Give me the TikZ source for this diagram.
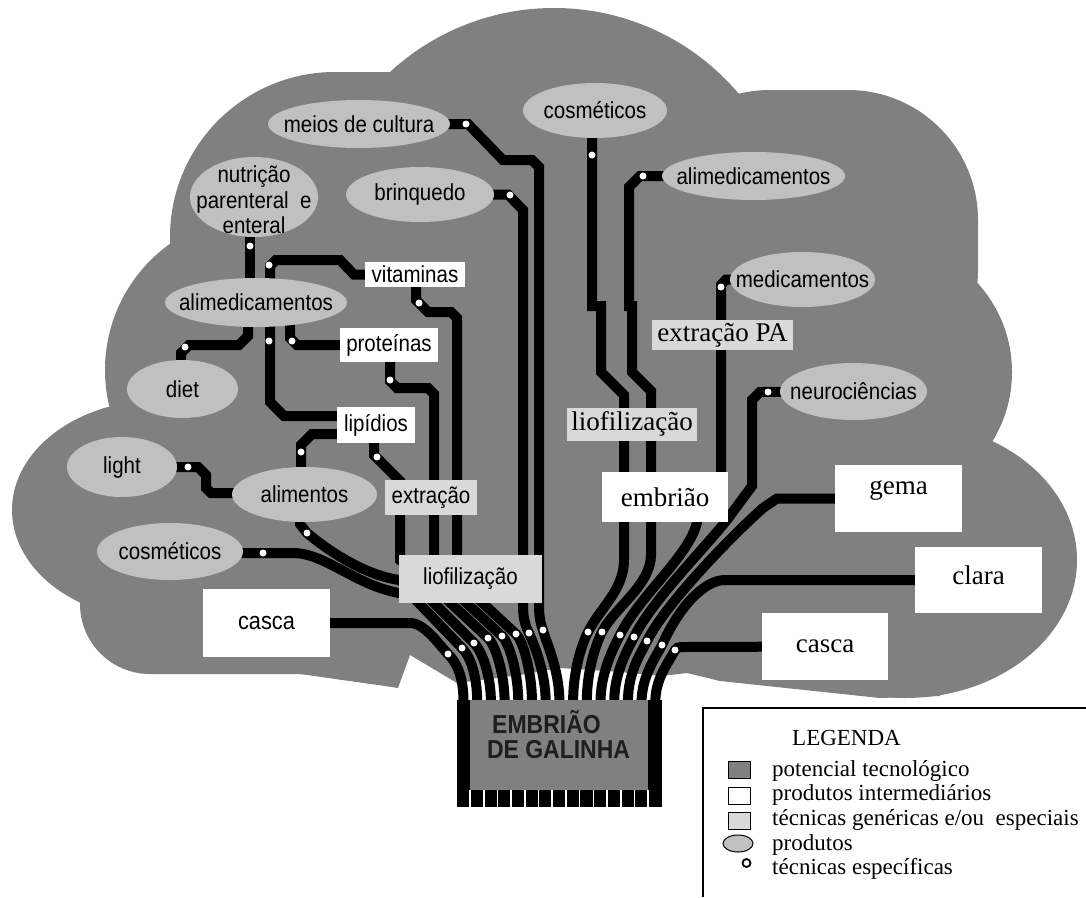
\documentclass[tikz,border=0pt]{standalone}
\usepackage{fontspec}
\setmainfont{Liberation Serif}
\setsansfont{Liberation Sans}
\newfontfamily\nsans{Liberation Sans}[FakeStretch=0.884]
\usetikzlibrary{shapes.geometric}
\pgfdeclarelayer{cloudl}
\pgfdeclarelayer{tracel}
\pgfsetlayers{cloudl,tracel,main}
\definecolor{cloudg}{HTML}{808080}
\definecolor{prodg}{HTML}{C0C0C0}
\definecolor{techg}{HTML}{D9D9D9}
\definecolor{chiptxt}{HTML}{1E1E1E}
\begin{document}
\begin{tikzpicture}[x=1pt,y=-1pt,
  trace/.style={line width=10pt, draw=black},
  prod/.style 2 args={ellipse, fill=prodg, minimum width=#1, minimum height=#2, inner sep=0pt},
  ibox/.style 2 args={rectangle, fill=white, minimum width=#1, minimum height=#2, inner sep=0pt},
  tbox/.style 2 args={rectangle, fill=techg, minimum width=#1, minimum height=#2, inner sep=0pt},
  dot/.style={circle, fill=white, minimum size=7pt, inner sep=0pt},
  sl/.style={font=\nsans\fontsize{23.2}{25.5}\selectfont, inner sep=0pt},
  slb/.style={font=\nsans\fontsize{24.6}{27}\selectfont, inner sep=0pt},
  rl/.style={font=\rmfamily\fontsize{27}{30}\selectfont, inner sep=0pt},
  chipfont/.style={font=\nsans\bfseries\fontsize{26}{29}\selectfont, text=chiptxt, anchor=base, inner sep=0pt},
  legt/.style={font=\rmfamily\fontsize{23}{26}\selectfont, anchor=base west, inner sep=0pt},
  legsym/.style={draw, line width=1pt, rectangle, minimum width=22pt, minimum height=17pt, inner sep=0pt},
]
\useasboundingbox (0,0) rectangle (1086,897);

% ---------- product / intermediate / technique nodes ----------
\node[prod={182pt}{48pt}, label={[sl]center:meios de cultura}] (meios) at (359,124) {};
\node[prod={128pt}{80pt}, label={[sl, align=center, yshift=-3pt]center:nutrição\\parenteral\ \ e\\enteral}] (nutr) at (254,197) {};
\node[prod={148pt}{55pt}, label={[sl]center:brinquedo}] (brinq) at (420,194.5) {};
\node[ibox={100pt}{25pt}, label={[sl]center:vitaminas}] (vitam) at (415,274.5) {};
\node[prod={182pt}{49pt}, label={[sl]center:alimedicamentos}] (alimL) at (256,302.5) {};
\node[ibox={98pt}{34pt}, label={[sl]center:proteínas}] (prot) at (389,345) {};
\node[prod={111pt}{58pt}, label={[sl]center:diet}] (diet) at (182.5,389) {};
\node[ibox={78pt}{36pt}, label={[sl]center:lipídios}] (lipid) at (376,425) {};
\node[prod={110pt}{60pt}, label={[sl]center:light}] (light) at (122,467) {};
\node[prod={145pt}{55pt}, label={[sl]center:alimentos}] (alimentos) at (304.5,494.5) {};
\node[tbox={92pt}{35pt}, label={[sl]center:extração}] (extrL) at (431,497.5) {};
\node[prod={146pt}{57pt}, label={[sl]center:cosméticos}] (cosmL) at (170,551.5) {};
\node[tbox={143pt}{48pt}, label={[sl]center:liofilização}] (lioL) at (470.5,579) {};
\node[ibox={127pt}{68pt}, label={[slb]center:casca}] (cascaL) at (266.5,623) {};

\node[prod={144pt}{55pt}, label={[sl]center:cosméticos}] (cosmT) at (595,110.5) {};
\node[prod={183pt}{48pt}, label={[sl]center:alimedicamentos}] (alimR) at (753.5,176) {};
\node[prod={145pt}{55pt}, label={[sl]center:medicamentos}] (medic) at (802.5,279.5) {};
\node[tbox={141pt}{30pt}, label={[rl]center:extração PA}] (extrPA) at (722.5,335) {};
\node[prod={147pt}{57pt}, label={[sl]center:neurociências}] (neuro) at (853.5,391.5) {};
\node[tbox={130pt}{33pt}, label={[rl]center:liofilização}] (lioR) at (632,424) {};
\node[ibox={126pt}{50pt}, label={[rl]center:embrião}] (embr) at (665,497) {};
\node[ibox={127pt}{67pt}, label={[rl, yshift=8pt]center:gema}] (gema) at (898.5,498.5) {};
\node[ibox={127pt}{66pt}, label={[rl, yshift=5pt]center:clara}] (clara) at (978.5,580) {};
\node[ibox={126pt}{67pt}, label={[rl]center:casca}] (cascaR) at (825,646.5) {};

% ---------- dots (specific techniques) ----------
\node[dot] (dn) at (250,246) {};
\node[dot] (dv) at (269,265) {};
\node[dot] (dd) at (185,347) {};
\node[dot] (dp) at (292,341) {};
\node[dot] (dl) at (269,341) {};
\node[dot] (dla) at (301,452) {};
\node[dot] (dle) at (377,457) {};
\node[dot] (dli) at (188,467) {};
\node[dot] (dal) at (307,533) {};
\node[dot] (dco) at (263,553) {};
\node[dot] (dvi) at (419,303) {};
\node[dot] (dpr) at (390,380) {};
\node[dot] (dbr) at (510,195) {};
\node[dot] (dme) at (466,124) {};
\node[dot] (dcT) at (592,155) {};
\node[dot] (daR) at (643,176) {};
\node[dot] (dmd) at (721,287) {};
\node[dot] (dne) at (768,392) {};
\node[dot] (d0) at (448,654) {};
\node[dot] (d1) at (462,648) {};
\node[dot] (d2) at (474,643) {};
\node[dot] (d3) at (488,638) {};
\node[dot] (d4) at (502,636) {};
\node[dot] (d5) at (516,634) {};
\node[dot] (d6) at (529,633) {};
\node[dot] (d7) at (543,630) {};
\node[dot] (d8) at (588,632) {};
\node[dot] (d9) at (602,632) {};
\node[dot] (d10) at (620,635) {};
\node[dot] (d11) at (634,637) {};
\node[dot] (d12) at (647,641) {};
\node[dot] (d13) at (662,645) {};
\node[dot] (d14) at (675,650) {};

% ---------- chip ----------
\node[rectangle, fill=black, minimum width=205pt, minimum height=107pt, inner sep=0pt] (chip) at (559.5,753.5) {};
\node[rectangle, fill=cloudg, minimum width=178pt, minimum height=90pt, inner sep=0pt] (chipin) at (559,745) {};
\foreach \k in {0,...,13} \fill[white] ({470+13.7*\k-0.8},790) rectangle ({470+13.7*\k+0.8},807);
\node[chipfont] (ct1) at (546.5,733) {EMBRIÃO};
\node[chipfont] (ct2) at (558.5,758) {DE GALINHA};
\foreach \i in {0,...,14} \coordinate (p\i) at ({463.5+13.7*\i},702);

% ---------- legend ----------
\draw[line width=1.5pt] (703,897) -- (703,708) -- (1086,708);
\node[legt] (lg0) at (792,745) {LEGENDA};
\node[legt] (lg1) at (772,776.7) {potencial tecnológico};
\node[legt] (lg2) at (772,800.7) {produtos intermediários};
\node[legt] (lg3) at (772,825.7) {técnicas genéricas e/ou\ \ especiais};
\node[legt] (lg4) at (772,850) {produtos};
\node[legt] (lg5) at (772,874) {técnicas específicas};
\node[legsym, fill=cloudg] (ls1) at (739,770) {};
\node[legsym, fill=white] (ls2) at (739,796) {};
\node[legsym, fill=techg] (ls3) at (739,821) {};
\node[draw, line width=1pt, fill=prodg, ellipse, minimum width=30pt, minimum height=17pt, inner sep=0pt] (ls4) at (738,843.5) {};
\node[draw, line width=1.8pt, fill=white, circle, minimum size=8pt, inner sep=0pt] (ls5) at (746.5,863) {};

% ---------- traces ----------
\begin{pgfonlayer}{tracel}
\draw[trace] (250,0 |- nutr.center) -- (250,0 |- alimL.center);
\draw[trace] (270,0 |- alimL.center) -- (270,266) -- (276,260) -- (340,260) -- (354,274.5) -- (vitam.center);
\draw[trace] (248,0 |- alimL.center) -- (248,336) -- (239,345) -- (189,345) -- (181,353) -- (181,0 |- diet.center);
\draw[trace] (290,0 |- alimL.center) -- (290,338) -- (297,345) -- (prot.center);
\draw[trace] (270,0 |- alimL.center) -- (270,402) -- (284,416) -- (lipid.center |- 0,416);
\draw[trace] (lipid.center |- 0,434) -- (312,434) -- (301,445) -- (301,0 |- alimentos.center);
\draw[trace] (light.center) -- (198,467) -- (206,475) -- (206,488) -- (211,493) -- (alimentos.center |- 0,493);
% left group into the chip
\draw[trace] (cascaL.center) -- (410,623) .. controls (425,623) and (440,646) .. (d0.center) .. controls (456,662) and (463.5,675) .. (p0);
\draw[trace] (cosmL.center |- 0,553) -- (293,553) .. controls (325,553) and (355,585) .. (399,593) -- (412,596) -- (d1.center) .. controls (470,656) and (477.2,675) .. (p1);
\draw[trace] (300,0 |- alimentos.center) -- (300,524) -- (dal.center) .. controls (330,552) and (365,575) .. (399,580) -- (427,596) -- (d2.center) .. controls (482,651) and (490.9,675) .. (p2);
\draw[trace] (374,0 |- lipid.center) -- (374,455) -- (400,481) -- (400,560) -- (443,596) -- (d3.center) .. controls (496,646) and (504.6,675) .. (p3);
\draw[trace] (390,0 |- prot.center) -- (390,381) -- (397,388) -- (428,388) -- (434,394) -- (434,560) -- (459,596) -- (d4.center) .. controls (510,644) and (518.3,675) .. (p4);
\draw[trace] (416,0 |- vitam.center) -- (416,300) -- (428,312) -- (451,312) -- (457,318) -- (457,560) -- (475,596) -- (d5.center) .. controls (524,642) and (532,675) .. (p5);
\draw[trace] (brinq.center) -- (508,194.5) -- (523,210) -- (523,605) .. controls (523,620) and (526,627) .. (d6.center) .. controls (532,640) and (545.7,670) .. (p6);
\draw[trace] (meios.center) -- (468,124) -- (503,160) -- (532,160) -- (539,167) -- (539,605) .. controls (539,618) and (541,625) .. (d7.center) .. controls (545,640) and (559.4,668) .. (p7);
% right group into the chip
\draw[trace] (592,0 |- cosmT.center) -- (592,306) -- (601,306) -- (601,372) -- (624,395) -- (624,560) .. controls (624,590) and (600,608) .. (d8.center) .. controls (582,644) and (573.1,670) .. (p8);
\draw[trace] (alimR.center) -- (640,176) -- (629,187) -- (629,306) -- (632,306) -- (632,372) -- (651,391) -- (651,555) .. controls (651,585) and (614,608) .. (d9.center) .. controls (596,644) and (586.8,670) .. (p9);
\draw[trace] (medic.center) -- (726,279.5) -- (721,285) -- (721,500) -- (697,515) -- (697,522) .. controls (690,555) and (640,595) .. (d10.center) .. controls (614,647) and (600.5,672) .. (p10);
\draw[trace] (neuro.center) -- (760,392) -- (752,400) -- (752,486) -- (732,513) .. controls (715,538) and (654,597) .. (d11.center) .. controls (628,649) and (614.2,672) .. (p11);
\draw[trace] (gema.center) -- (777,498.5) -- (763,508) .. controls (738,530) and (667,601) .. (d12.center) .. controls (641,653) and (627.9,672) .. (p12);
\draw[trace] (clara.center) -- (725,580) .. controls (705,580) and (680,605) .. (d13.center) .. controls (656,657) and (641.6,676) .. (p13);
\draw[trace] (cascaR.center) -- (684,647) .. controls (678,647) and (676,648) .. (d14.center) .. controls (669,662) and (655.3,678) .. (p14);
\end{pgfonlayer}

% ---------- cloud ----------
\begin{pgfonlayer}{cloudl}
\fill[white] (0,0) rectangle (1086,897);
\fill[cloudg] (554,250) circle[radius=242pt];
\fill[cloudg, rounded corners=165pt] (170,72) rectangle (600,450);
\fill[cloudg] (260,370) circle[radius=155pt];
\fill[cloudg] (160,510) ellipse[x radius=148pt, y radius=110pt];
\fill[cloudg, rounded corners=70pt] (80,470) rectangle (420,674);
\fill[cloudg, rounded corners=130pt] (640,90) rectangle (978,400);
\fill[cloudg] (880,372) circle[radius=132pt];
\fill[cloudg] (905,560) ellipse[x radius=172pt, y radius=138pt];
\fill[cloudg] (300,300) -- (300,674) -- (385,686) -- (398,688) -- (410,655) -- (457,683) -- (520,675) -- (560,668) -- (620,672) -- (662,676) -- (687,673) -- (720,681) -- (880,698) -- (940,696) -- (960,300) -- cycle;
\end{pgfonlayer}
\end{tikzpicture}
\end{document}
